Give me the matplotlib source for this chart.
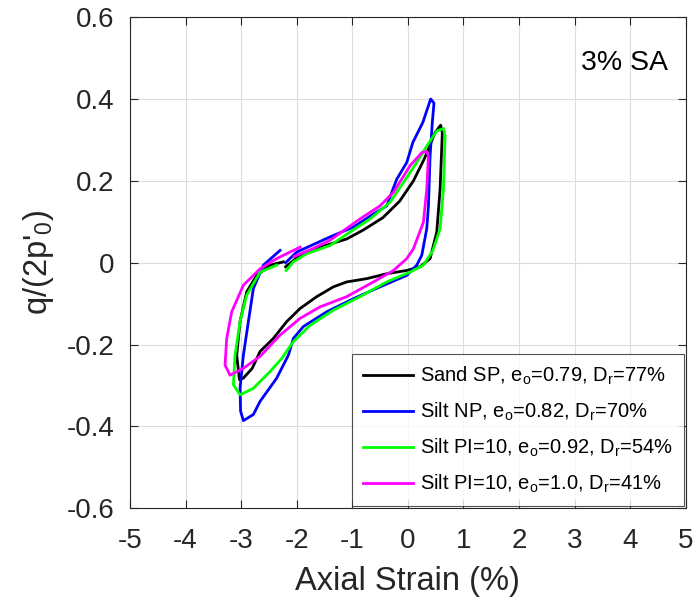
import numpy as np
import matplotlib.pyplot as plt

plt.rcParams['font.family'] = ['Liberation Sans', 'DejaVu Sans']
plt.rcParams['mathtext.default'] = 'regular'
plt.rcParams['axes.unicode_minus'] = False

# loop traces (axial strain %, q/2p'0)
sand_x = [-2.2, -1.94, -1.58, -1.1, -0.8, -0.45, -0.15, 0.1, 0.3, 0.49, 0.59, 0.62,
          0.58, 0.52, 0.40, 0.22, -0.02, -0.38, -0.74, -1.1, -1.34, -1.64, -1.94,
          -2.18, -2.42, -2.66, -2.8, -2.96, -3.03, -3.08, -3.02, -2.9, -2.72, -2.48, -2.24]
sand_y = [-0.01, 0.018, 0.038, 0.058, 0.08, 0.11, 0.15, 0.2, 0.255, 0.318, 0.336, 0.318,
          0.18, 0.075, 0.01, -0.01, -0.019, -0.027, -0.039, -0.047, -0.059, -0.083, -0.112,
          -0.144, -0.185, -0.217, -0.258, -0.282, -0.286, -0.226, -0.144, -0.071, -0.031, -0.006, 0.002]

siltnp_x = [-2.2, -2.0, -1.4, -0.98, -0.62, -0.38, -0.29, -0.2, -0.02, 0.09, 0.27, 0.41, 0.47,
            0.44, 0.40, 0.37, 0.34, 0.25, 0.16, -0.02, -0.5, -0.98, -1.46, -1.88, -2.06, -2.15,
            -2.36, -2.66, -2.78, -2.96, -3.01, -3.02, -2.96, -2.87, -2.78, -2.6, -2.3]
siltnp_y = [0.0, 0.026, 0.063, 0.087, 0.119, 0.139, 0.172, 0.204, 0.245, 0.294, 0.343, 0.40, 0.39,
            0.343, 0.261, 0.139, 0.083, 0.018, -0.006, -0.031, -0.059, -0.088, -0.12, -0.156, -0.185, -0.226,
            -0.282, -0.339, -0.371, -0.386, -0.363, -0.307, -0.226, -0.144, -0.063, -0.006, 0.03]

silt92_x = [-2.19, -2.06, -1.82, -1.4, -1.04, -0.68, -0.32, -0.08, 0.16, 0.34, 0.52, 0.64, 0.67,
            0.64, 0.58, 0.45, 0.28, 0.04, -0.38, -0.86, -1.34, -1.76, -2.06, -2.27, -2.48, -2.78,
            -3.02, -3.14, -3.11, -3.02, -2.9, -2.66, -2.36]
silt92_y = [-0.019, 0.002, 0.022, 0.042, 0.075, 0.107, 0.148, 0.196, 0.245, 0.285, 0.322, 0.328, 0.31,
            0.18, 0.083, 0.03, -0.006, -0.023, -0.047, -0.083, -0.116, -0.153, -0.193, -0.234, -0.266, -0.307,
            -0.323, -0.298, -0.226, -0.144, -0.079, -0.023, -0.006]

silt10_x = [-2.05, -1.7, -1.4, -0.86, -0.5, -0.26, 0.04, 0.25, 0.34, 0.37, 0.34, 0.28, 0.10,
            -0.02, -0.26, -0.62, -1.1, -1.58, -1.94, -2.3, -2.66, -2.96, -3.2, -3.29, -3.26,
            -3.17, -2.96, -2.66, -2.36, -1.94]
silt10_y = [0.015, 0.035, 0.055, 0.107, 0.139, 0.172, 0.237, 0.269, 0.272, 0.261, 0.18, 0.099, 0.034,
            0.01, -0.019, -0.047, -0.083, -0.108, -0.136, -0.177, -0.229, -0.258, -0.275, -0.25, -0.185,
            -0.12, -0.055, -0.015, 0.01, 0.038]

labels = ['Sand SP, e$_o$=0.79, D$_r$=77%',
          'Silt NP, e$_o$=0.82, D$_r$=70%',
          'Silt PI=10, e$_o$=0.92, D$_r$=54%',
          'Silt PI=10, e$_o$=1.0, D$_r$=41%']
colors = ['black', '#0000ff', '#00ff00', '#ff00ff']

fig = plt.figure(figsize=(6.99, 6.05), dpi=100)
ax = fig.add_axes([0.186, 0.16, 0.795, 0.8116])

series = [(sand_x, sand_y), (siltnp_x, siltnp_y), (silt92_x, silt92_y), (silt10_x, silt10_y)]
for (x, y), c, lab in zip(series, colors, labels):
    ax.plot(x, y, color=c, lw=2, label=lab)

ax.set_xlim(-5, 5)
ax.set_ylim(-0.6, 0.6)
ax.set_xticks(np.arange(-5, 6, 1))
ax.set_yticks(np.arange(-0.6, 0.61, 0.2))
ax.set_yticklabels(['-0.6', '-0.4', '-0.2', '0', '0.2', '0.4', '0.6'])
ax.grid(True, color='#dcdcdc', lw=0.8)
ax.tick_params(direction='in', labelsize=20, colors='#262626', top=True, right=True,
               length=6, width=0.8)
ax.tick_params(axis='x', pad=14)
ax.tick_params(axis='y', pad=11)
for s in ax.spines.values():
    s.set_color('#262626')
    s.set_linewidth(0.8)

ax.set_xlabel('Axial Strain (%)', fontsize=23.5, color='#262626', labelpad=9)
ax.set_ylabel("q/(2p'$_0$)", fontsize=23.5, color='#262626', labelpad=8)
ax.text(3.9, 0.488, '3% SA', fontsize=20.5, ha='center', va='center', color='black')

leg = ax.legend(loc='lower right', fontsize=14.5, frameon=True, fancybox=False,
                borderaxespad=0.1, handlelength=2.5, handletextpad=0.3,
                labelspacing=0.68, borderpad=0.55, edgecolor='#262626')
leg.get_frame().set_linewidth(0.8)

fig.savefig('out.png', dpi=100)
